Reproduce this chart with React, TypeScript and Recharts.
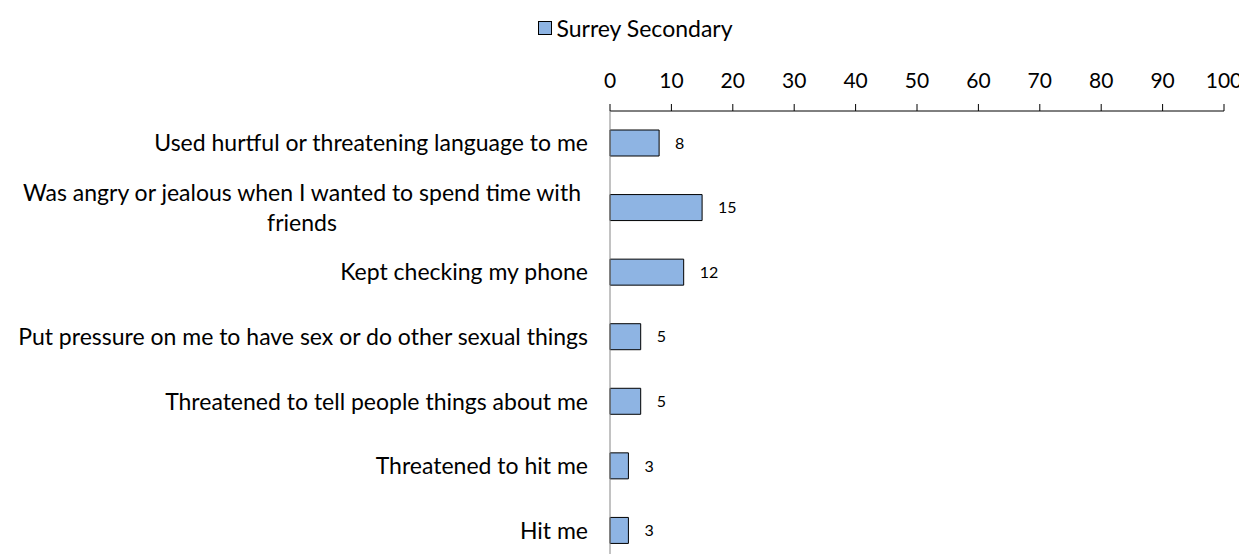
import React from "react";
import { BarChart, Bar, XAxis, YAxis, LabelList, Legend } from "recharts";

const categories: string[][] = [
  ["Used hurtful or threatening language to me"],
  ["Was angry or jealous when I wanted to spend time with", "friends"],
  ["Kept checking my phone"],
  ["Put pressure on me to have sex or do other sexual things"],
  ["Threatened to tell people things about me"],
  ["Threatened to hit me"],
  ["Hit me"],
];
const values: number[] = [8, 15, 12, 5, 5, 3, 3];
const xTicks: number[] = [0, 10, 20, 30, 40, 50, 60, 70, 80, 90, 100];
const seriesName = "Surrey Secondary";

const data = categories.map((lines, i) => ({ name: lines.join("\n"), value: values[i] }));

const FONT = "Lato, 'Open Sans', sans-serif";

const CategoryTick = (props: any) => {
  const { x, y, payload } = props;
  const lines: string[] = String(payload.value).split("\n");
  const lh = 30;
  if (lines.length === 1) {
    return (
      <text x={x} y={y} dy="0.35em" textAnchor="end" fontSize={23} fill="#000" fontFamily={FONT}>
        {lines[0]}
      </text>
    );
  }
  const cx = x - 286;
  return (
    <text x={cx} y={y - ((lines.length - 1) * lh) / 2} textAnchor="middle" fontSize={23} fill="#000" fontFamily={FONT}>
      {lines.map((l, i) => (
        <tspan key={i} x={cx} dy={i === 0 ? "0.35em" : lh}>
          {l}
        </tspan>
      ))}
    </text>
  );
};

const LegendContent = () => (
  <div style={{ display: "flex", alignItems: "center", justifyContent: "center", fontFamily: FONT, fontSize: 23, marginLeft: 16 }}>
    <span style={{ display: "inline-block", width: 12, height: 12, background: "#8EB4E3", border: "1px solid #000", marginRight: 4 }} />
    <span>{seriesName}</span>
  </div>
);

export default function App() {
  return (
    <div style={{ width: 1239, height: 560, fontFamily: FONT }}>
      <style>{`html { overflow: hidden; }`}</style>
      <BarChart
        width={1239}
        height={560}
        data={data}
        layout="vertical"
        margin={{ top: 35, right: 23, left: 0, bottom: 5 }}
        barSize={26}
      >
        <Legend verticalAlign="top" content={<LegendContent />} wrapperStyle={{ top: 6, left: 0, width: 1239 }} />
        <XAxis
          type="number"
          orientation="top"
          domain={[0, 100]}
          ticks={xTicks}
          interval={0}
          height={40}
          tickSize={7}
          tickMargin={16}
          axisLine={{ stroke: "#000", strokeWidth: 1 }}
          tickLine={{ stroke: "#000" }}
          tick={{ fontSize: 21, fill: "#000", fontFamily: FONT }}
        />
        <YAxis
          type="category"
          dataKey="name"
          width={602}
          tickLine={false}
          tickMargin={16}
          axisLine={{ stroke: "#868686" }}
          tick={<CategoryTick />}
          interval={0}
        />
        <Bar dataKey="value" name={seriesName} fill="#8EB4E3" stroke="#000" strokeWidth={1} isAnimationActive={false}>
          <LabelList dataKey="value" position="right" offset={16} fontSize={16} fill="#000" fontFamily={FONT} />
        </Bar>
      </BarChart>
    </div>
  );
}
